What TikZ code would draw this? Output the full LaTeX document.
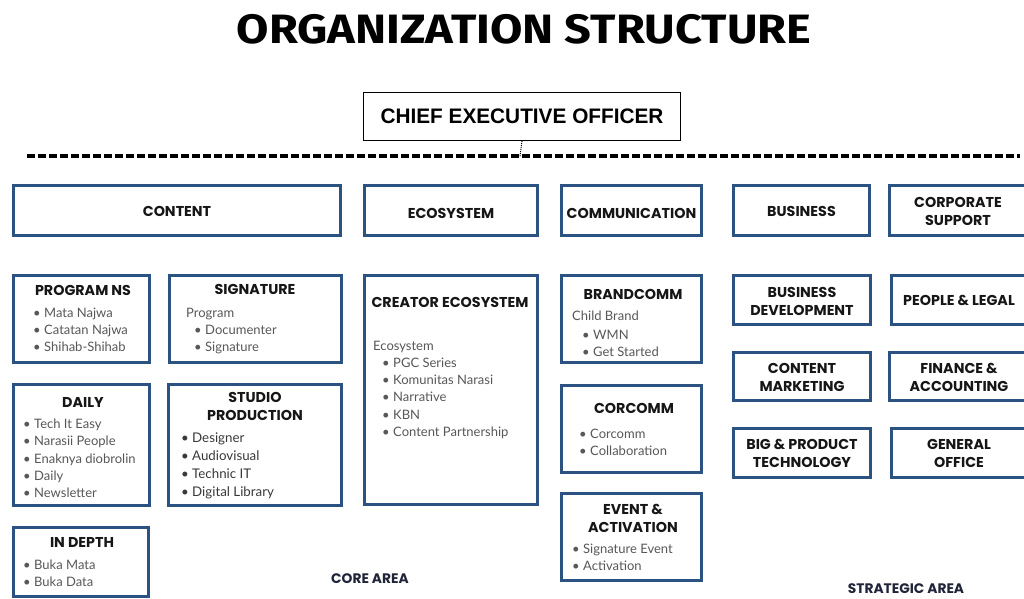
\documentclass[tikz,border=0pt]{standalone}
\usepackage{fontspec}
\usepackage{graphicx}
\newfontfamily\titlefont{Fira Sans}
\newfontfamily\hfont{Poppins}
\newfontfamily\bfont{Lato}
\newfontfamily\ceofont{Liberation Sans}
\definecolor{boxblue}{RGB}{44,82,130}
\definecolor{bodygray}{RGB}{88,88,88}
\definecolor{headblack}{RGB}{22,22,22}
\definecolor{navy}{RGB}{32,36,56}
\tikzset{
  unitbox/.style={draw=boxblue, line width=3pt, rectangle, inner sep=0pt},
  head/.style={font=\hfont\bfseries\fontsize{14.3}{18}\selectfont, text=headblack, align=center, inner sep=0pt},
  item/.style={font=\bfont\fontsize{13}{14}\selectfont, text=bodygray, inner sep=0pt, anchor=base west},
  ditem/.style={font=\bfont\fontsize{13.3}{14}\selectfont, text=headblack!85, inner sep=0pt, anchor=base west},
  area/.style={font=\hfont\bfseries\fontsize{13.8}{16}\selectfont, text=navy, inner sep=0pt},
}
\newcommand\bul[1]{\makebox[11pt][l]{\textbullet}#1}
\begin{document}
\begin{tikzpicture}[x=1pt,y=-1pt]
\clip (0,0) rectangle (1024,598);
\fill[white] (0,0) rectangle (1024,598);

% title
\node[font=\titlefont\bfseries\fontsize{41}{44}\selectfont, inner sep=0pt] (title) at (524,29) {\scalebox{1.144}[1]{ORGANIZATION STRUCTURE}};

% CEO
\node[draw=black, line width=1.3pt, minimum width=317pt, minimum height=48pt, inner sep=0pt] (ceo) at (522,116.5) {};
\node[font=\ceofont\bfseries\fontsize{21}{23}\selectfont, inner sep=0pt] (ceot) at (522,116) {\scalebox{0.99}[1]{CHIEF EXECUTIVE OFFICER}};
\coordinate (dl) at (520,156);
\draw[line width=3.5pt, dash pattern=on 8pt off 3pt] (27,156) -- (1020,156);
\draw[densely dotted, line width=1pt] (ceo.south) -- (dl);

% top row
\node[unitbox, minimum width=327pt, minimum height=50pt] (content) at (177,210.5) {};
\node[head] (contentt) at (177,211) {CONTENT};
\node[unitbox, minimum width=173pt, minimum height=50pt] (eco) at (451,210.5) {};
\node[head] (ecot) at (451,213) {ECOSYSTEM};
\node[unitbox, minimum width=140pt, minimum height=50pt] (comm) at (631.5,210.5) {};
\node[head] (commt) at (631.5,213) {COMMUNICATION};
\node[unitbox, minimum width=136pt, minimum height=50pt] (bus) at (801.5,210.5) {};
\node[head] (bust) at (801.5,211) {BUSINESS};
\node[unitbox, minimum width=149pt, minimum height=50pt] (corp) at (964,210.5) {};
\node[head] (corpt) at (958,211) {CORPORATE\\SUPPORT};

% PROGRAM NS
\node[unitbox, minimum width=136pt, minimum height=87pt] (pns) at (81.5,319) {};
\node[head] (pnst) at (83,290) {PROGRAM NS};
\node[item] (pns1) at (33,317.5) {\bul{Mata Najwa}};
\node[item] (pns2) at (33,334.5) {\bul{Catatan Najwa}};
\node[item] (pns3) at (33,351.5) {\bul{Shihab-Shihab}};

% SIGNATURE
\node[unitbox, minimum width=172pt, minimum height=87pt] (sig) at (255.5,319) {};
\node[head] (sigt) at (255,289) {SIGNATURE};
\node[item] (sig0) at (186,317.5) {Program};
\node[item] (sig1) at (194,334.5) {\bul{Documenter}};
\node[item] (sig2) at (194,351.5) {\bul{Signature}};

% DAILY
\node[unitbox, minimum width=136pt, minimum height=121pt] (daily) at (81.5,445) {};
\node[head] (dailyt) at (83,402) {DAILY};
\node[item] (d1) at (23,428.5) {\bul{Tech It Easy}};
\node[item] (d2) at (23,445.8) {\bul{Narasii People}};
\node[item] (d3) at (23,463.1) {\bul{Enaknya diobrolin}};
\node[item] (d4) at (23,480.4) {\bul{Daily}};
\node[item] (d5) at (23,497.7) {\bul{Newsletter}};

% STUDIO PRODUCTION
\node[unitbox, minimum width=173pt, minimum height=121pt] (studio) at (255,445) {};
\node[head] (studiot) at (255,406.5) {STUDIO\\PRODUCTION};
\node[ditem] (s1) at (181,442) {\bul{Designer}};
\node[ditem] (s2) at (181,460.3) {\bul{Audiovisual}};
\node[ditem] (s3) at (181,478.6) {\bul{Technic IT}};
\node[ditem] (s4) at (181,496.9) {\bul{Digital Library}};

% IN DEPTH
\node[unitbox, minimum width=135pt, minimum height=69pt] (indepth) at (81,562) {};
\node[head] (indeptht) at (82,542) {IN DEPTH};
\node[item] (i1) at (23,569.5) {\bul{Buka Mata}};
\node[item] (i2) at (23,586.5) {\bul{Buka Data}};

% CREATOR ECOSYSTEM
\node[unitbox, minimum width=173pt, minimum height=229pt] (creator) at (451,390) {};
\node[head] (creatort) at (450,302) {CREATOR ECOSYSTEM};
\node[item] (c0) at (373,350.5) {Ecosystem};
\node[item] (c1) at (382,367.5) {\bul{PGC Series}};
\node[item] (c2) at (382,384.7) {\bul{Komunitas Narasi}};
\node[item] (c3) at (382,401.9) {\bul{Narrative}};
\node[item] (c4) at (382,419.1) {\bul{KBN}};
\node[item] (c5) at (382,436.3) {\bul{Content Partnership}};

% BRANDCOMM
\node[unitbox, minimum width=140pt, minimum height=87pt] (brand) at (631.5,319) {};
\node[head] (brandt) at (633,294) {BRANDCOMM};
\node[item] (b0) at (572,320.5) {Child Brand};
\node[item] (b1) at (582,339.5) {\bul{WMN}};
\node[item] (b2) at (582,356.5) {\bul{Get Started}};

% CORCOMM
\node[unitbox, minimum width=140pt, minimum height=87pt] (corcomm) at (631.5,429) {};
\node[head] (corcommt) at (634,408) {CORCOMM};
\node[item] (cc1) at (579,438.5) {\bul{Corcomm}};
\node[item] (cc2) at (579,455.5) {\bul{Collaboration}};

% EVENT & ACTIVATION
\node[unitbox, minimum width=140pt, minimum height=87pt] (event) at (631.5,537) {};
\node[head] (eventt) at (633,518) {EVENT \&\\ACTIVATION};
\node[item] (e1) at (572,553.5) {\bul{Signature Event}};
\node[item] (e2) at (572,570.5) {\bul{Activation}};

% strategic
\node[unitbox, minimum width=137pt, minimum height=49pt] (busdev) at (802,300) {};
\node[head] (busdevt) at (802,301) {BUSINESS\\DEVELOPMENT};
\node[unitbox, minimum width=147pt, minimum height=49pt] (people) at (965,300) {};
\node[head] (peoplet) at (959,300) {PEOPLE \& LEGAL};
\node[unitbox, minimum width=137pt, minimum height=48pt] (contmkt) at (802,376.5) {};
\node[head] (contmktt) at (802,377) {CONTENT\\MARKETING};
\node[unitbox, minimum width=149pt, minimum height=48pt] (finance) at (964,376.5) {};
\node[head] (financet) at (959,377) {FINANCE \&\\ACCOUNTING};
\node[unitbox, minimum width=137pt, minimum height=49pt] (bigprod) at (802,453) {};
\node[head] (bigprodt) at (802,453) {BIG \& PRODUCT\\TECHNOLOGY};
\node[unitbox, minimum width=147pt, minimum height=49pt] (general) at (965,453) {};
\node[head] (generalt) at (959,453) {GENERAL\\OFFICE};

% areas
\node[area] (core) at (370,579) {CORE AREA};
\node[area] (strat) at (906,588.5) {STRATEGIC AREA};
\end{tikzpicture}
\end{document}
